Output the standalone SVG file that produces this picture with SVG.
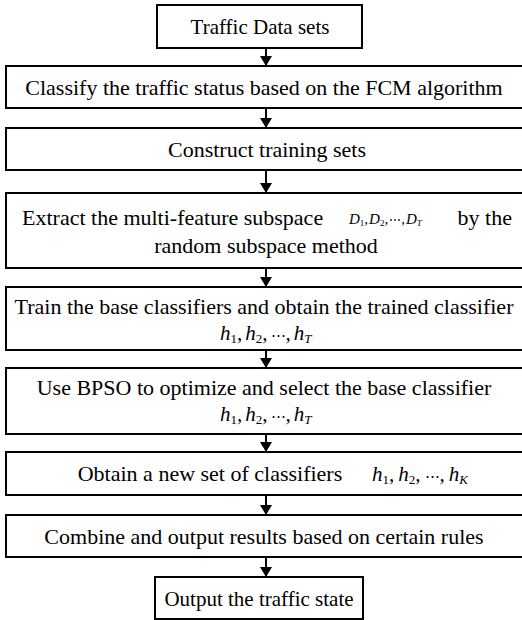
<svg xmlns="http://www.w3.org/2000/svg" width="522" height="620" viewBox="0 0 522 620">
  <style>
    .box { fill: #ffffff; stroke: #000000; stroke-width: 2; }
    .lbl { font-family: "Liberation Serif", "Times New Roman", serif; font-size: 22px; fill: #000000; text-anchor: middle; }
    .small { font-size: 21px; }
    .math { font-family: "Liberation Serif", "Times New Roman", serif; font-style: italic; fill: #000000; }
    .sub { font-style: normal; }
    .dots { font-family: "DejaVu Serif", serif; font-style: normal; }
    .wire { stroke: #000000; stroke-width: 2; fill: none; }
  </style>
  <defs>
    <marker id="arrow" viewBox="0 0 10 12" refX="10" refY="6" markerWidth="10" markerHeight="12" markerUnits="userSpaceOnUse" orient="auto">
      <path d="M0,0 L10,6 L0,12 Z" fill="#000000"/>
    </marker>
  </defs>

  <!-- connectors between consecutive steps -->
  <g id="connectors">
    <line class="wire" x1="266" y1="48" x2="266" y2="66" marker-end="url(#arrow)"/>
    <line class="wire" x1="266" y1="108" x2="266" y2="128" marker-end="url(#arrow)"/>
    <line class="wire" x1="266" y1="170" x2="266" y2="193" marker-end="url(#arrow)"/>
    <line class="wire" x1="266" y1="268" x2="266" y2="287" marker-end="url(#arrow)"/>
    <line class="wire" x1="266" y1="350" x2="266" y2="368" marker-end="url(#arrow)"/>
    <line class="wire" x1="266" y1="434" x2="266" y2="452" marker-end="url(#arrow)"/>
    <line class="wire" x1="266" y1="495" x2="266" y2="515" marker-end="url(#arrow)"/>
    <line class="wire" x1="266" y1="557" x2="266" y2="577" marker-end="url(#arrow)"/>
  </g>

  <g id="n-data">
    <rect class="box" x="157" y="5" width="205" height="43"/>
    <text class="lbl small" x="260" y="34">Traffic Data sets</text>
  </g>

  <g id="n-fcm">
    <rect class="box" x="6" y="66" width="520" height="42"/>
    <text class="lbl" x="264" y="95">Classify the traffic status based on the FCM algorithm</text>
  </g>

  <g id="n-train-sets">
    <rect class="box" x="6" y="128" width="520" height="42"/>
    <text class="lbl" x="267" y="157">Construct training sets</text>
  </g>

  <g id="n-subspace">
    <rect class="box" x="6" y="193" width="520" height="75"/>
    <text class="lbl" x="22" y="225" style="text-anchor:start">Extract the multi-feature subspace</text>
    <text class="math" x="349" y="224" font-size="15">D<tspan class="sub" font-size="9" dy="2">1</tspan><tspan dy="-2">,</tspan><tspan dx="1">D</tspan><tspan class="sub" font-size="9" dy="2">2</tspan><tspan dy="-2">,</tspan><tspan class="dots" dx="1" font-size="12">⋯</tspan>,<tspan dx="1">D</tspan><tspan font-size="9" dy="2">T</tspan></text>
    <text class="lbl" x="512" y="225" style="text-anchor:end">by the</text>
    <text class="lbl" x="266" y="253">random subspace method</text>
  </g>

  <g id="n-base">
    <rect class="box" x="6" y="287" width="520" height="63"/>
    <text class="lbl" x="264" y="314">Train the base classifiers and obtain the trained classifier</text>
    <text class="math" x="220" y="340" font-size="21">h<tspan class="sub" font-size="13" dy="3">1</tspan><tspan dy="-3">,</tspan><tspan dx="3">h</tspan><tspan class="sub" font-size="13" dy="3">2</tspan><tspan dy="-3">,</tspan><tspan class="dots" dx="3" font-size="15">⋯</tspan>,<tspan dx="3">h</tspan><tspan font-size="13" dy="3">T</tspan></text>
  </g>

  <g id="n-bpso">
    <rect class="box" x="6" y="368" width="520" height="66"/>
    <text class="lbl" x="264" y="395">Use BPSO to optimize and select the base classifier</text>
    <text class="math" x="220" y="421" font-size="21">h<tspan class="sub" font-size="13" dy="3">1</tspan><tspan dy="-3">,</tspan><tspan dx="3">h</tspan><tspan class="sub" font-size="13" dy="3">2</tspan><tspan dy="-3">,</tspan><tspan class="dots" dx="3" font-size="15">⋯</tspan>,<tspan dx="3">h</tspan><tspan font-size="13" dy="3">T</tspan></text>
  </g>

  <g id="n-newset">
    <rect class="box" x="6" y="452" width="520" height="43"/>
    <text class="lbl" x="210" y="481">Obtain a new set of classifiers</text>
    <text class="math" x="372" y="481" font-size="21">h<tspan class="sub" font-size="13" dy="3">1</tspan><tspan dy="-3">,</tspan><tspan dx="4">h</tspan><tspan class="sub" font-size="13" dy="3">2</tspan><tspan dy="-3">,</tspan><tspan class="dots" dx="4" font-size="15">⋯</tspan>,<tspan dx="4">h</tspan><tspan font-size="13" dy="3">K</tspan></text>
  </g>

  <g id="n-combine">
    <rect class="box" x="6" y="515" width="520" height="42"/>
    <text class="lbl" x="264" y="544">Combine and output results based on certain rules</text>
  </g>

  <g id="n-output">
    <rect class="box" x="155" y="577" width="208" height="42"/>
    <text class="lbl small" x="259" y="606">Output the traffic state</text>
  </g>
</svg>
